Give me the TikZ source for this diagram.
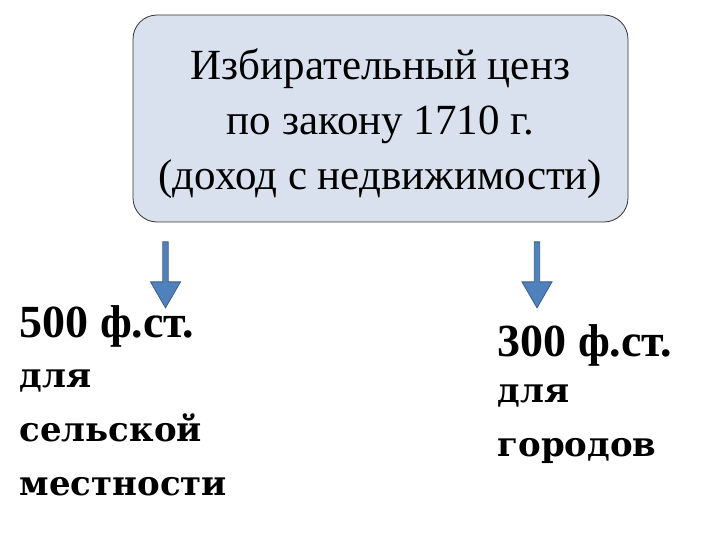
\documentclass[tikz,border=0pt]{standalone}
\usepackage{fontspec}
\setmainfont{Liberation Serif}
\newfontfamily\wideserif{DejaVu Serif}
\usetikzlibrary{shapes.arrows}
\definecolor{boxfill}{HTML}{D9E1EE}
\definecolor{arrowblue}{HTML}{4F81BD}
\definecolor{arrowedge}{HTML}{385D8A}
\begin{document}
\begin{tikzpicture}[x=1pt,y=-1pt,
  title/.style={align=center,font=\fontsize{43}{55}\selectfont},
  amount/.style={anchor=west,font=\fontsize{46}{50}\bfseries\selectfont},
  sub/.style={anchor=west,font=\wideserif\fontsize{34}{54}\bfseries\selectfont,align=left},
  downarrow/.style={single arrow,draw=arrowedge,fill=arrowblue,line width=0.8pt,shape border rotate=270,minimum width=30,single arrow head extend=9,single arrow tip angle=60,minimum height=66,inner sep=1.6}]
\useasboundingbox (0,0) rectangle (720,540);
\node[draw=black!80,fill=boxfill,rounded corners=24,line width=0.8pt,minimum width=495,minimum height=207] (box) at (380.5,118.5) {};
\node[title] (t) at (380.5,124) {Избирательный ценз\\по закону 1710 г.\\(доход с недвижимости)};
\node[downarrow] (a1) at (165.5,272.5) {};
\node[downarrow] (a2) at (537,272.5) {};
\node[amount] (l1) at (16,326) {500 ф.ст.};
\node[sub,anchor=north west] (l2) at (16,366) {для\\сельской\\местности};
\node[amount] (r1) at (494,345) {300 ф.ст.};
\node[sub,anchor=north west] (r2) at (494,381) {для\\городов};
\end{tikzpicture}
\end{document}
